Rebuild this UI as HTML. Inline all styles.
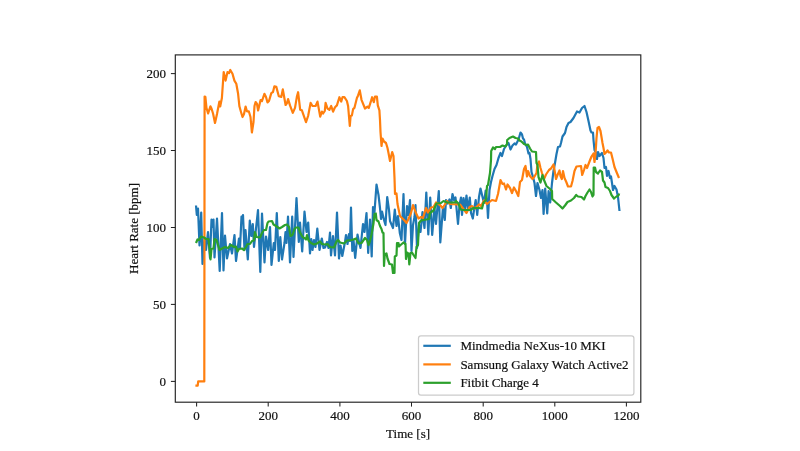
<!DOCTYPE html>
<html lang="en">
<head>
<meta charset="utf-8">
<title>Heart Rate Comparison</title>
<style>
html,body{margin:0;padding:0;background:#fff;}
body{width:800px;height:451px;overflow:hidden;}
svg{display:block;will-change:transform;}
svg text{font-family:"Liberation Serif","DejaVu Serif",serif;font-size:13px;fill:#111;stroke:#111;stroke-width:0.2;}
.ln{fill:none;stroke-width:2.2;stroke-linejoin:round;stroke-linecap:butt;}
.tk line{stroke:#222;stroke-width:1.05;}
</style>
</head>
<body>
<svg width="800" height="451" viewBox="0 0 800 451">
<rect x="0" y="0" width="800" height="451" fill="#ffffff"/>
<!-- series -->
<polyline class="ln" stroke="#1f77b4" points="196.0,205.5 196.8,215.0 198.0,208.5 199.5,245.5 201.2,212.5 202.5,264.0 204.5,238.0 206.0,250.0 208.0,232.0 210.0,258.0 211.5,219.5 212.5,227.0 213.5,219.5 214.5,257.5 217.0,218.5 219.7,271.0 222.0,213.0 223.5,270.5 225.0,235.5 227.0,258.5 230.0,244.0 232.0,253.5 234.5,235.0 236.0,261.0 239.0,238.5 240.0,248.0 241.5,216.5 242.3,221.0 243.0,215.0 244.5,250.0 245.5,230.0 247.8,259.5 249.8,220.5 251.3,236.0 252.8,224.0 254.0,247.0 258.0,210.0 260.3,272.0 262.0,213.5 264.5,262.5 266.0,236.5 268.2,250.0 270.0,227.0 271.5,265.0 273.8,243.0 275.0,250.0 276.8,213.0 278.8,261.0 280.3,237.0 282.0,259.5 284.5,243.0 285.5,232.0 286.5,243.0 288.0,216.5 290.0,262.5 292.2,216.5 293.5,257.0 296.5,198.0 298.8,242.0 300.0,222.5 302.2,251.5 304.5,211.5 306.5,232.0 308.2,222.5 310.0,253.5 311.3,239.0 312.5,250.0 314.0,240.0 315.5,247.0 317.3,228.5 319.5,250.0 321.8,238.5 323.5,248.0 325.0,247.5 327.0,242.0 328.5,248.0 330.0,232.5 331.0,255.5 333.0,236.0 335.0,255.5 337.0,212.5 339.0,258.5 340.5,245.5 342.3,256.0 345.0,242.0 346.0,235.0 347.5,244.0 349.0,234.0 350.0,241.0 351.0,207.5 352.3,251.0 353.5,240.0 355.2,258.0 357.5,234.5 359.0,242.0 360.5,248.0 363.0,224.0 364.5,232.0 366.5,213.0 368.2,253.0 370.0,219.5 371.7,256.5 373.0,207.0 374.5,212.0 376.5,184.5 378.5,195.0 380.0,208.0 381.0,219.0 382.0,211.5 384.0,220.0 385.5,225.0 387.2,197.0 389.0,210.0 390.0,221.0 393.0,228.0 394.8,209.5 396.5,226.0 398.0,216.0 399.8,233.0 401.5,240.0 403.5,194.0 405.0,244.0 407.0,206.0 408.5,215.0 410.0,200.0 411.5,251.0 413.0,225.0 414.5,217.0 415.5,205.0 417.0,248.0 419.0,225.0 420.5,232.0 422.5,212.0 424.5,228.0 426.3,192.5 428.3,234.5 430.2,197.5 432.2,235.0 434.5,208.0 436.0,224.0 438.8,191.0 440.3,242.5 443.0,207.0 444.8,220.0 446.0,200.0 447.8,203.5 449.5,199.5 450.8,208.0 452.5,194.0 454.2,200.5 455.5,197.5 458.0,224.0 459.5,205.0 461.0,197.5 462.0,215.0 463.5,198.0 465.0,208.5 466.5,195.5 468.0,210.0 469.8,197.5 471.0,213.0 472.8,218.5 474.0,210.0 475.7,200.0 477.2,215.0 479.0,197.0 480.5,188.5 483.0,199.0 484.0,203.0 485.7,190.5 487.0,200.0 488.0,218.0 489.5,190.0 491.0,182.0 492.5,176.0 494.5,169.0 496.5,165.0 498.5,158.0 500.5,153.0 502.0,156.0 504.0,149.0 506.5,145.0 508.5,143.0 510.5,149.5 512.5,145.5 514.5,143.5 516.0,144.5 518.5,139.5 520.5,132.5 522.0,134.5 523.0,138.5 524.0,139.5 525.0,143.5 527.0,147.0 528.5,153.5 529.5,153.0 530.5,159.0 531.5,172.0 533.0,177.0 534.5,183.0 536.0,196.0 537.5,183.0 539.5,190.0 541.0,198.0 542.5,190.0 543.6,214.0 545.2,188.5 547.2,213.5 548.6,191.0 550.2,202.5 552.0,183.0 553.5,171.0 555.0,163.0 556.5,154.0 558.0,147.0 560.0,146.5 561.0,143.0 562.5,136.5 565.0,133.0 566.5,127.0 568.5,123.0 570.5,122.0 573.5,118.0 577.0,111.5 579.5,112.5 582.0,108.0 584.5,106.0 586.5,112.0 588.5,121.0 590.5,130.5 591.5,132.5 593.0,132.5 593.5,140.0 594.5,150.0 596.0,153.0 597.0,159.0 598.0,152.0 599.5,156.0 602.0,153.0 603.5,158.0 604.5,168.0 606.0,167.0 607.0,176.0 608.5,171.0 610.0,178.0 611.0,176.5 612.0,183.0 613.0,190.0 614.5,186.0 616.5,189.5 618.0,197.0 619.5,211.0"/>
<polyline class="ln" stroke="#ff7f0e" points="195.4,385.6 197.7,385.6 198.2,381.4 204.3,381.4 204.6,96.5 205.4,97.0 206.5,108.0 208.1,113.5 210.4,106.3 211.5,108.5 213.1,113.8 215.0,123.0 217.0,114.0 219.4,101.5 220.2,106.5 221.9,98.0 223.7,72.0 225.6,80.6 227.5,72.0 229.0,73.2 230.3,70.0 232.5,73.8 234.4,80.6 236.3,83.8 238.1,93.8 239.4,106.3 241.0,112.0 242.5,117.0 244.0,114.0 245.6,106.5 246.9,111.3 248.8,111.3 250.5,117.0 251.9,132.5 253.5,122.0 254.5,106.0 255.6,102.0 257.0,104.0 258.1,110.5 260.6,100.0 262.0,101.0 264.4,93.8 266.0,97.0 267.5,102.5 269.0,101.0 271.3,93.1 273.0,92.0 274.4,86.3 276.3,86.9 278.8,96.3 281.3,96.9 282.8,89.4 284.0,96.0 285.6,105.0 287.0,103.0 288.1,99.1 290.0,105.4 292.8,112.9 295.0,107.9 296.9,96.6 298.1,92.2 300.2,109.8 301.9,110.4 306.0,122.2 308.1,116.0 310.6,102.9 312.5,106.0 315.6,106.0 317.5,101.6 320.2,116.6 321.9,111.6 323.1,113.5 324.8,111.0 325.6,102.9 327.5,108.5 329.4,109.8 331.2,106.0 333.1,111.6 335.0,107.2 336.9,105.4 339.4,97.2 341.2,101.6 342.5,97.2 344.4,97.2 346.9,101.0 348.1,106.0 349.8,126.0 350.6,116.0 351.9,115.4 353.1,109.1 354.4,107.9 356.9,97.9 358.1,95.4 359.8,90.4 361.5,99.8 365.0,108.5 367.5,106.6 368.8,107.9 371.2,100.4 372.1,97.2 373.8,102.2 375.0,96.6 376.9,96.6 377.8,105.4 379.4,110.4 380.0,120.0 380.5,132.0 381.5,146.0 382.5,138.5 384.0,141.5 386.0,143.0 387.5,148.0 388.5,153.0 390.0,161.0 392.2,152.0 393.5,156.0 394.5,178.0 395.0,194.0 396.5,193.5 397.5,204.0 400.0,216.0 402.0,218.0 404.5,220.5 406.5,223.0 408.5,219.0 411.0,213.0 413.0,205.0 415.5,212.0 418.5,218.5 421.0,217.0 423.0,218.0 426.0,208.0 428.0,212.5 431.0,207.5 433.5,207.0 436.0,202.5 440.0,205.0 442.5,208.0 444.5,205.0 447.0,201.0 450.0,204.0 457.0,204.5 460.0,204.5 463.0,208.5 466.5,213.0 469.5,207.0 472.0,206.0 475.0,208.5 479.0,204.5 481.0,206.0 484.0,200.5 487.0,204.0 489.5,202.0 492.0,200.0 496.0,201.0 498.0,194.0 500.5,180.0 502.5,184.0 504.0,183.5 506.0,189.5 507.5,184.5 510.0,188.0 512.0,193.0 514.0,187.5 516.0,191.0 518.3,196.0 520.0,182.0 522.0,180.0 524.0,169.0 525.5,166.0 527.0,176.5 528.0,171.0 530.0,176.0 532.5,179.0 534.5,176.5 536.5,173.0 537.5,164.0 539.0,161.5 540.5,168.0 542.0,173.0 544.0,179.0 546.0,174.5 549.0,170.0 551.0,168.5 553.5,164.5 554.5,170.0 556.0,179.0 557.5,175.0 559.5,170.5 560.5,176.0 561.8,179.0 563.0,171.0 564.5,178.0 566.5,182.5 568.0,186.5 571.0,186.5 572.5,181.0 574.5,171.0 576.5,166.5 581.0,166.0 582.2,175.0 584.0,170.0 585.5,165.0 587.0,168.0 589.5,161.5 591.5,156.5 593.5,153.5 594.5,162.0 595.5,154.0 596.5,138.0 597.5,128.0 599.0,127.0 600.5,131.0 602.5,143.0 603.5,148.0 604.5,154.0 606.0,152.5 607.5,150.5 609.0,152.5 611.0,152.5 612.5,158.5 614.5,167.0 616.5,172.0 619.0,178.0"/>
<polyline class="ln" stroke="#2ca02c" points="196.0,243.0 197.5,239.5 199.0,240.0 201.0,236.5 204.0,237.5 206.0,239.0 208.5,239.0 209.5,248.0 210.5,259.5 211.5,249.0 213.5,248.5 214.5,239.0 216.5,240.0 218.0,245.0 219.5,250.0 222.0,248.5 225.0,247.0 228.0,248.0 231.0,245.0 234.0,247.0 236.0,246.5 237.5,251.5 239.0,249.0 242.0,248.5 244.0,250.0 246.0,247.0 247.5,244.0 250.0,244.0 252.0,241.0 254.0,240.5 255.0,232.0 256.5,237.0 260.0,237.5 262.0,233.0 264.0,230.0 266.0,230.0 267.5,223.0 268.5,221.5 272.0,221.0 273.5,224.5 276.0,226.0 279.5,228.5 282.0,227.0 285.0,225.0 287.0,224.5 289.0,227.0 290.5,236.0 292.5,235.0 294.5,229.0 296.0,227.5 298.5,227.5 300.0,232.5 302.5,237.0 305.0,238.5 306.0,239.5 307.0,235.0 308.5,240.5 311.0,243.0 314.0,244.5 317.0,243.5 320.0,241.5 322.0,244.0 325.0,244.5 327.5,244.0 330.0,247.0 334.0,247.5 336.5,241.5 338.0,240.0 340.0,242.5 344.0,243.5 347.0,240.5 352.0,240.0 356.0,238.5 358.5,243.5 361.5,243.0 365.0,238.0 367.0,240.0 368.5,245.0 370.0,241.0 371.5,234.5 373.5,223.5 374.5,214.0 375.8,213.5 376.5,220.0 378.5,221.5 380.0,226.0 381.5,229.0 382.5,232.5 383.5,233.0 384.0,266.0 384.8,254.0 386.5,253.5 387.5,258.5 389.5,264.0 392.0,264.5 393.0,273.0 394.5,273.0 394.8,256.5 396.5,255.5 397.0,243.0 398.5,243.0 399.0,246.5 400.0,245.5 403.5,242.5 405.5,244.0 406.0,259.0 407.2,252.5 408.5,253.5 409.3,264.5 410.5,253.0 412.0,252.5 413.5,255.0 415.5,258.0 416.5,247.0 418.0,245.0 419.0,223.0 421.0,220.5 429.0,219.0 430.0,213.0 433.5,210.5 436.5,203.5 441.0,203.0 443.5,201.0 447.0,202.5 455.0,202.5 456.0,201.0 458.5,203.5 460.5,209.5 463.0,210.0 471.0,210.0 473.0,208.0 479.0,208.0 482.0,208.5 483.5,202.5 486.0,200.0 487.0,186.0 488.0,185.0 490.0,173.0 491.0,160.0 491.2,151.0 493.0,147.5 495.0,149.0 496.0,147.0 500.0,147.0 502.5,145.5 505.5,146.5 507.0,144.0 507.2,140.0 509.5,138.0 513.0,136.5 515.5,138.0 518.0,138.5 519.5,140.5 521.5,141.5 524.0,144.0 526.5,145.0 528.0,144.5 530.0,148.5 532.0,151.5 536.0,152.0 536.5,163.0 537.5,165.0 538.5,177.0 540.5,182.5 542.5,175.0 544.0,180.0 546.5,186.0 550.0,189.0 552.0,191.0 552.2,199.0 556.0,202.5 560.0,206.0 562.5,208.5 565.0,205.5 567.5,202.0 571.0,200.5 574.0,198.0 576.2,195.0 578.0,196.5 581.5,197.0 584.0,199.5 585.5,196.0 587.5,192.5 589.5,189.5 591.0,192.0 592.5,196.5 593.5,195.0 593.7,167.5 595.0,167.5 596.0,172.0 598.0,173.5 600.0,170.5 602.0,172.0 603.0,180.5 604.5,182.5 605.5,187.0 608.0,188.0 610.0,191.0 611.5,195.0 614.0,198.5 616.5,196.5 618.5,195.5 619.2,193.5"/>
<!-- axes frame -->
<rect x="175.3" y="54.9" width="465.5" height="347.3" fill="none" stroke="#222" stroke-width="1.15"/>
<g class="tk"><line x1="196.6" y1="402.2" x2="196.6" y2="406.59999999999997"/><line x1="268.2" y1="402.2" x2="268.2" y2="406.59999999999997"/><line x1="339.9" y1="402.2" x2="339.9" y2="406.59999999999997"/><line x1="411.5" y1="402.2" x2="411.5" y2="406.59999999999997"/><line x1="483.2" y1="402.2" x2="483.2" y2="406.59999999999997"/><line x1="554.8" y1="402.2" x2="554.8" y2="406.59999999999997"/><line x1="626.4" y1="402.2" x2="626.4" y2="406.59999999999997"/><line x1="170.9" y1="381.4" x2="175.3" y2="381.4"/><line x1="170.9" y1="304.4" x2="175.3" y2="304.4"/><line x1="170.9" y1="227.5" x2="175.3" y2="227.5"/><line x1="170.9" y1="150.5" x2="175.3" y2="150.5"/><line x1="170.9" y1="73.6" x2="175.3" y2="73.6"/></g>
<g><text x="196.6" y="419.6" text-anchor="middle">0</text><text x="268.2" y="419.6" text-anchor="middle">200</text><text x="339.9" y="419.6" text-anchor="middle">400</text><text x="411.5" y="419.6" text-anchor="middle">600</text><text x="483.2" y="419.6" text-anchor="middle">800</text><text x="554.8" y="419.6" text-anchor="middle">1000</text><text x="626.4" y="419.6" text-anchor="middle">1200</text></g>
<g><text x="166" y="385.7" text-anchor="end">0</text><text x="166" y="308.8" text-anchor="end">50</text><text x="166" y="231.8" text-anchor="end">100</text><text x="166" y="154.8" text-anchor="end">150</text><text x="166" y="77.9" text-anchor="end">200</text></g>
<text x="408.1" y="437.6" text-anchor="middle">Time [s]</text>
<text transform="translate(138.2,228.5) rotate(-90)" text-anchor="middle">Heart Rate [bpm]</text>
<!-- legend -->
<rect x="418.5" y="335.9" width="215.4" height="59.2" rx="2.4" ry="2.4" fill="#ffffff" fill-opacity="0.8" stroke="#cccccc" stroke-width="1.25"/>
<line class="ln" stroke="#1f77b4" x1="423.3" y1="345.8" x2="450.8" y2="345.8"/>
<line class="ln" stroke="#ff7f0e" x1="423.3" y1="364.4" x2="450.8" y2="364.4"/>
<line class="ln" stroke="#2ca02c" x1="423.3" y1="382.8" x2="450.8" y2="382.8"/>
<text x="460.4" y="350.2">Mindmedia NeXus-10 MKI</text>
<text x="460.4" y="368.7">Samsung Galaxy Watch Active2</text>
<text x="460.4" y="387.2">Fitbit Charge 4</text>
</svg>
</body>
</html>
